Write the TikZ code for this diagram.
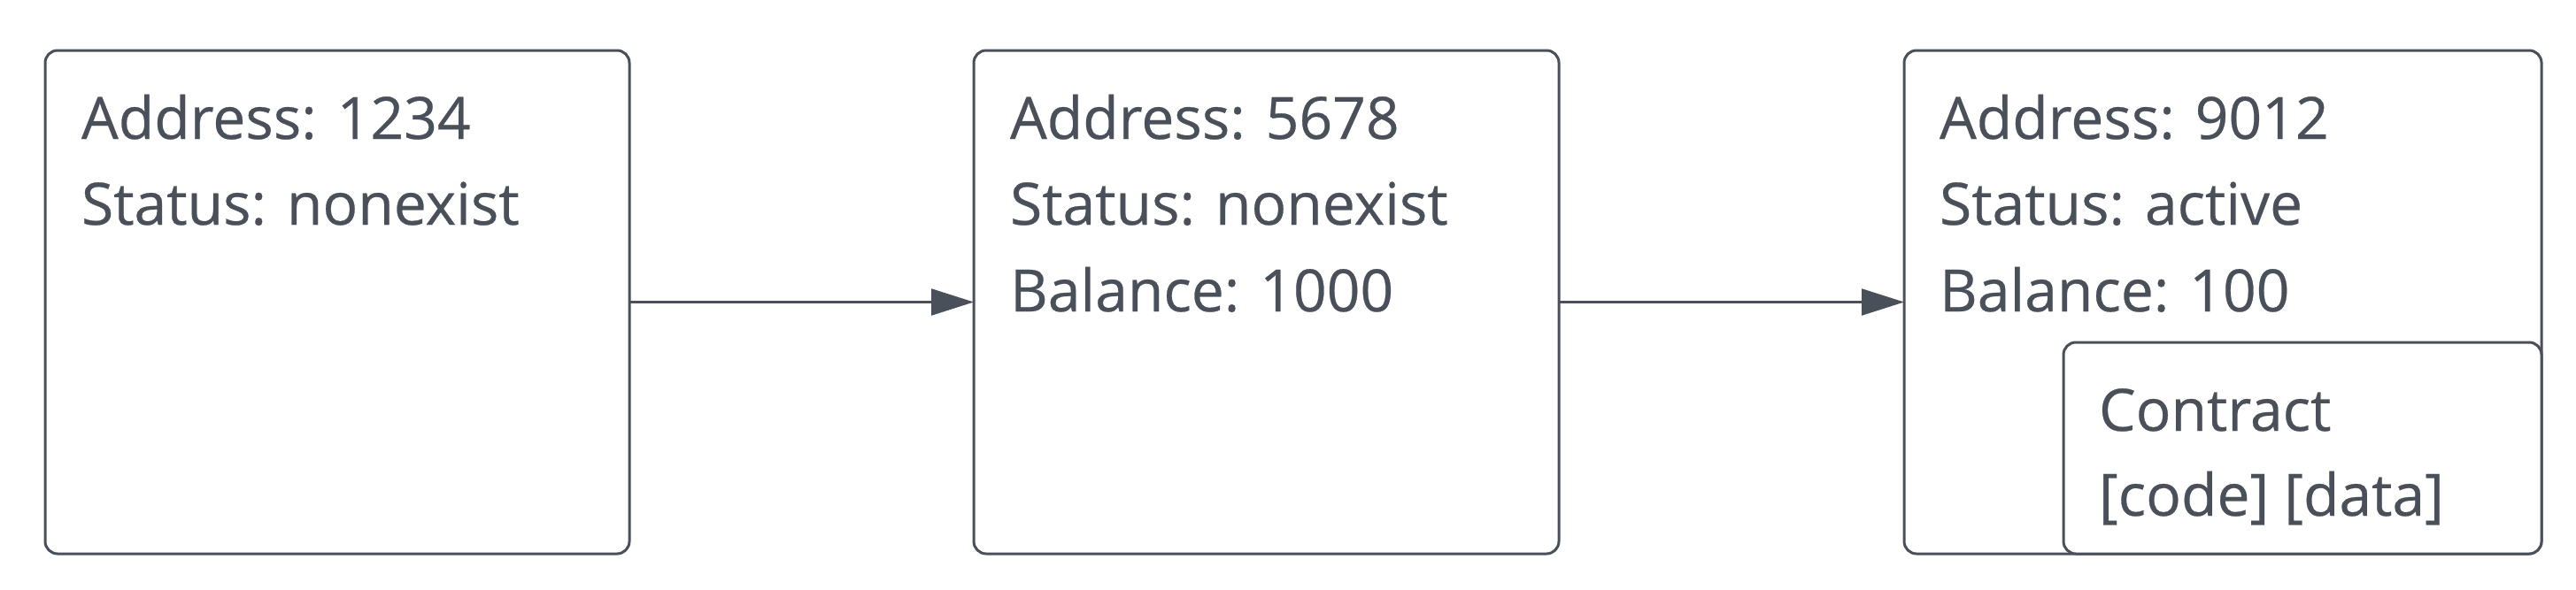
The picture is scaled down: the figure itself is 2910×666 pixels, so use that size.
\documentclass[tikz,border=0pt]{standalone}
\usepackage{fontspec}
\setmainfont{Open Sans}[FakeBold=0.4]
\usetikzlibrary{arrows.meta}
\definecolor{ink}{HTML}{4A5059}
\tikzset{
  acctbox/.style={draw=ink, line width=0.75pt, rounded corners=3.5pt, inner sep=0pt, outer sep=0pt, fill=white},
  lbl/.style={anchor=base west, inner sep=0pt, outer sep=0pt, text=ink, font=\fontsize{16.5pt}{20pt}\selectfont},
  link/.style={draw=ink, line width=0.55pt, -{Triangle[length=12pt, width=7.5pt]}}
}
\begin{document}
\begin{tikzpicture}[x=0.25pt, y=-0.25pt]
\useasboundingbox (0,0) rectangle (2910,666);
% boxes
\node[acctbox, minimum width=165pt, minimum height=142.25pt] (b1) at (381,341.5) {};
\node[acctbox, minimum width=165.25pt, minimum height=142.25pt] (b2) at (1430.5,341.5) {};
\node[acctbox, minimum width=180pt, minimum height=142.25pt] (b3) at (2511,341.5) {};
\node[acctbox, minimum width=135pt, minimum height=59.75pt] (ct) at (2601,506.5) {};
% texts
\node[lbl] (a1) at (92,157) {Address: 1234};
\node[lbl] (s1) at (92,254) {Status: nonexist};
\node[lbl] (a2) at (1141,157) {Address: 5678};
\node[lbl] (s2) at (1141,254) {Status: nonexist};
\node[lbl] (m2) at (1141,352) {Balance: 1000};
\node[lbl] (a3) at (2191,157) {Address: 9012};
\node[lbl] (s3) at (2191,254) {Status: active};
\node[lbl] (m3) at (2191,352) {Balance: 100};
\node[lbl] (c1) at (2371,487) {Contract};
\node[lbl] (c2) at (2371,583) {[code] [data]};
% connectors
\draw[link] (b1.east) -- (b2.west);
\draw[link] (b2.east) -- (b3.west);
\end{tikzpicture}
\end{document}
